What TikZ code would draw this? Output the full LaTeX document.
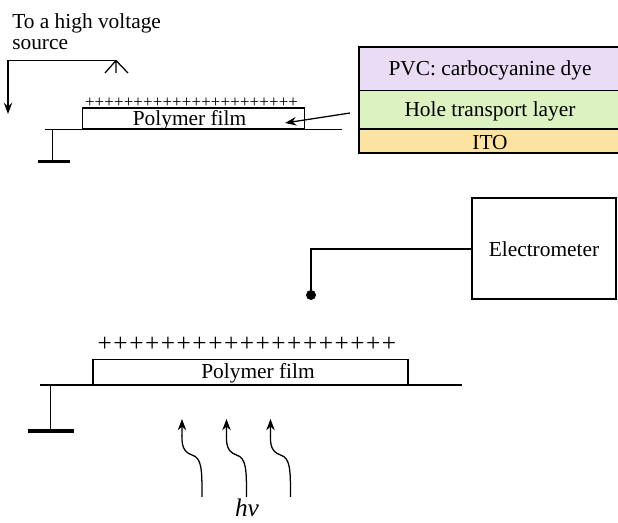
\documentclass[tikz,border=0pt]{standalone}
\usepackage{fontspec}
\setmainfont{Liberation Serif}
\usetikzlibrary{arrows.meta}
\definecolor{dyecol}{HTML}{EADCF4}
\definecolor{holecol}{HTML}{DCF2C0}
\definecolor{itocol}{HTML}{FDE3A0}
\tikzset{
  wire/.style={line width=1.1pt},
  thinwire/.style={line width=0.9pt},
  filmbox/.style={draw,line width=1.2pt,inner sep=0pt,text depth=0pt},
  layerbox/.style={draw,line width=1.2pt,inner sep=0pt,minimum width=6.55cm,text depth=0pt},
  plate/.style={line width=2.4pt},
  label/.style={anchor=base,inner sep=0pt}
}
\begin{document}
\begin{tikzpicture}[x=0.025cm,y=-0.025cm,>={Stealth[length=8pt,width=6pt]},font=\fontsize{15.2}{15}\selectfont]
  \useasboundingbox (0,0) rectangle (618,523);
  % upper part
  \node (src) at (12,50) [anchor=base west,inner sep=0pt,align=left] {To a high voltage\\source};
  \coordinate (srcend) at (8,114);
  \coordinate (srccorner) at (8,60.5);
  \coordinate (ant) at (116,60.5);
  \coordinate (antb) at (116,73);
  \coordinate (antl) at (105,73);
  \coordinate (antr) at (128,73);
  \draw[->,wire] (ant) -- (srccorner) -- (srcend);
  \draw[thinwire] (antl) -- (ant) -- (antr) (ant) -- (antb);
  \node (film1) at (193.5,118.5) [filmbox,minimum width=5.55cm,minimum height=0.525cm] {};
  \node (film1txt) at (189.5,126) [label] {Polymer film};
  \node (plus1) at (191.5,107.5) [label,font=\fontsize{12}{12}\selectfont\addfontfeature{LetterSpace=1}] {++++++++++++++++++++++};
  \coordinate (base1l) at (45,129.5);
  \coordinate (base1r) at (342,129.5);
  \draw[thinwire] (base1l) -- (base1r);
  \coordinate (gnd1) at (52.5,129.5);
  \coordinate (gnd1b) at (52.5,161.5);
  \coordinate (plate1l) at (38,161.5);
  \coordinate (plate1r) at (70,161.5);
  \draw[thinwire] (gnd1) -- (gnd1b);
  \draw[plate] (plate1l) -- (plate1r);
  % layers
  \node (dye) at (490,68.75) [layerbox,fill=dyecol,minimum height=1.0875cm,text height=8.9pt] {PVC: carbocyanine dye};
  \node (hole) at (490,109.75) [layerbox,fill=holecol,minimum height=0.9625cm,text height=10pt] {Hole transport layer};
  \node (ito) at (490,141) [layerbox,fill=itocol,minimum height=0.6cm,text height=11.4pt] {ITO};
  \coordinate (zoomstart) at (350,113);
  \coordinate (zoomend) at (285,123);
  \draw[->,thinwire] (zoomstart) -- (zoomend);
  % lower part
  \node (meter) at (544,248.5) [filmbox,minimum width=3.6cm,minimum height=2.525cm,text height=11.7pt] {Electrometer};
  \coordinate (probe) at (311,295);
  \fill (probe) circle (5);
  \draw[wire] (meter.west |- 0,249) -- (311,249) -- (probe);
  \node (film2) at (250.25,372.25) [filmbox,minimum width=7.875cm,minimum height=0.6375cm] {};
  \node (film2txt) at (258,378.3) [label] {Polymer film};
  \node (plus2) at (247,352) [label,font=\fontsize{18}{18}\selectfont\addfontfeature{LetterSpace=6}] {+++++++++++++++++++};
  \coordinate (base2l) at (40,385);
  \coordinate (base2r) at (462,385);
  \draw[wire] (base2l) -- (base2r);
  \coordinate (gnd2) at (50.5,385);
  \coordinate (gnd2b) at (50.5,431);
  \coordinate (plate2l) at (28,431);
  \coordinate (plate2r) at (74,431);
  \draw[wire] (gnd2) -- (gnd2b);
  \draw[plate,line width=3pt] (plate2l) -- (plate2r);
  \foreach \i/\dx in {1/0,2/44.5,3/88.5} {
    \coordinate (ph\i s) at (202+\dx,497);
    \coordinate (ph\i e) at (182+\dx,419);
    \draw[->,thinwire] (ph\i s) .. controls (202+\dx,470) and (202+\dx,458) .. (192+\dx,455)
      .. controls (180+\dx,451) and (182+\dx,440) .. (ph\i e);
  }
  \node (hnu) at (247,517) [label,font=\fontsize{18}{18}\selectfont] {\textit{h}\textit{ν}};
\end{tikzpicture}
\end{document}
